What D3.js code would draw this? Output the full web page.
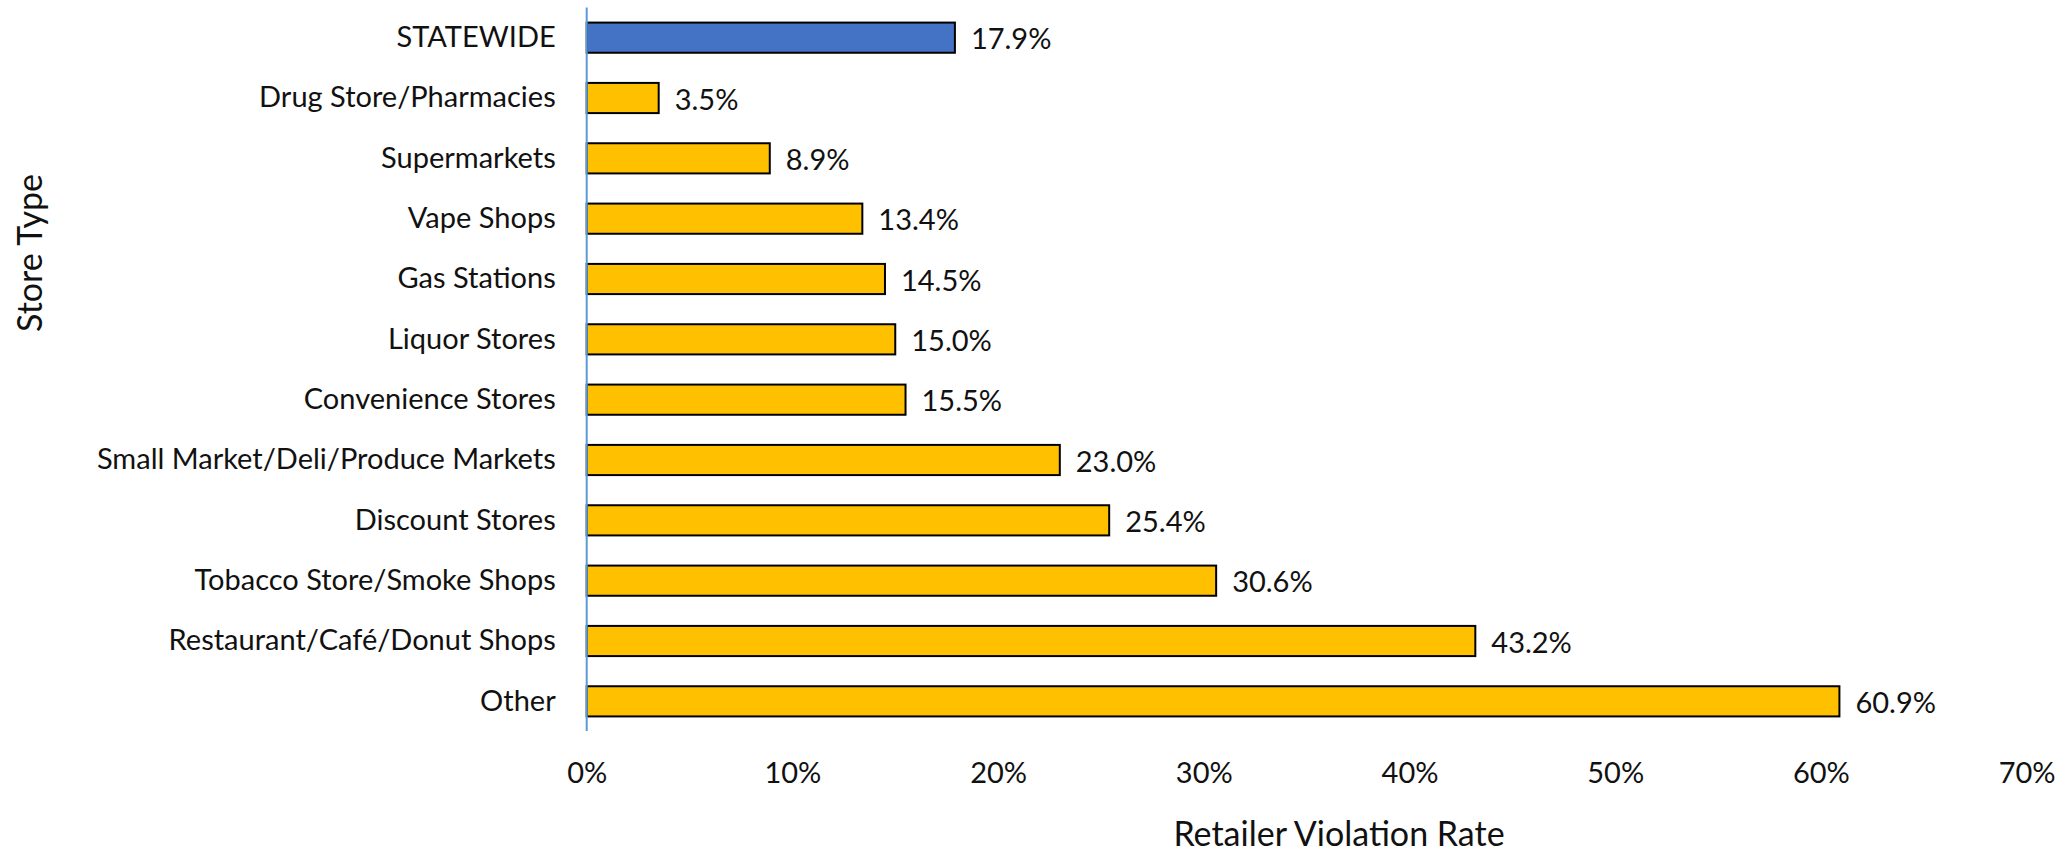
<!DOCTYPE html>
<html>
<head>
<meta charset="utf-8">
<script src="https://cdn.jsdelivr.net/npm/d3@7"></script>
<style>
  html, body { margin: 0; padding: 0; background: #fff; }
  svg text { font-family: Lato, "Open Sans", sans-serif; fill: #111; }
</style>
</head>
<body>
<svg id="chart" width="2070" height="852"></svg>
<script>
const categories = [
  "STATEWIDE",
  "Drug Store/Pharmacies",
  "Supermarkets",
  "Vape Shops",
  "Gas Stations",
  "Liquor Stores",
  "Convenience Stores",
  "Small Market/Deli/Produce Markets",
  "Discount Stores",
  "Tobacco Store/Smoke Shops",
  "Restaurant/Café/Donut Shops",
  "Other"
];
const values = [17.9, 3.5, 8.9, 13.4, 14.5, 15.0, 15.5, 23.0, 25.4, 30.6, 43.2, 60.9];
const xTicks = [0, 10, 20, 30, 40, 50, 60, 70];
const xTitle = "Retailer Violation Rate";
const yTitle = "Store Type";

const svg = d3.select("#chart");
const x = d3.scaleLinear().domain([0, 70]).range([586.7, 2026.6]);
const y = d3.scaleBand().domain(categories).range([7.5, 731.5]).paddingInner(0.5).paddingOuter(0.25);

const data = categories.map((c, i) => ({ c, v: values[i] }));

// bars
svg.append("g").selectAll("rect").data(data).join("rect")
  .attr("x", x(0))
  .attr("y", d => y(d.c))
  .attr("width", d => x(d.v) - x(0))
  .attr("height", y.bandwidth())
  .attr("fill", d => d.c === "STATEWIDE" ? "#4472C4" : "#FFC000")
  .attr("stroke", "#000")
  .attr("stroke-width", 2);

// value labels
svg.append("g").selectAll("text").data(data).join("text")
  .attr("x", d => x(d.v) + 16)
  .attr("y", d => y(d.c) + y.bandwidth() / 2)
  .attr("dominant-baseline", "central")
  .style("font-size", "29px")
  .text(d => d.v.toFixed(1) + "%");

// y axis (category labels)
const yAxis = svg.append("g")
  .attr("transform", `translate(${x(0)},0)`)
  .call(d3.axisLeft(y).tickSize(0).tickPadding(31));
yAxis.select(".domain").remove();
yAxis.selectAll("text").style("font-size", "29px").attr("fill", "#111");

// vertical axis line
svg.append("line")
  .attr("x1", x(0)).attr("x2", x(0))
  .attr("y1", 7.5).attr("y2", 731)
  .attr("stroke", "#5B9BD5").attr("stroke-width", 2);

// x axis
const xAxis = svg.append("g")
  .attr("transform", "translate(0,731)")
  .call(d3.axisBottom(x).tickValues(xTicks).tickSize(0).tickPadding(31).tickFormat(d => d + "%"));
xAxis.select(".domain").remove();
xAxis.selectAll("text").style("font-size", "29px").attr("fill", "#111");

// axis titles
svg.append("text")
  .attr("x", 1339).attr("y", 846)
  .attr("text-anchor", "middle")
  .style("font-size", "34px")
  .text(xTitle);

svg.append("text")
  .attr("transform", "translate(42,253) rotate(-90)")
  .attr("text-anchor", "middle")
  .style("font-size", "34px")
  .text(yTitle);
</script>
</body>
</html>
